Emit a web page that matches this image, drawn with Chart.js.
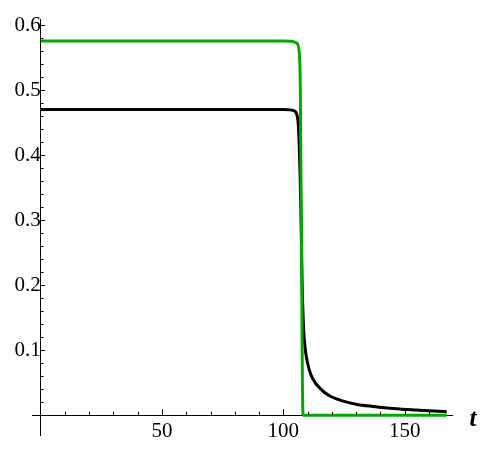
<!DOCTYPE html>
<html>
<head>
<meta charset="utf-8">
<script src="https://cdn.jsdelivr.net/npm/chart.js@4/dist/chart.umd.min.js"></script>
<style>
  html, body { margin: 0; padding: 0; background: #fff; }
  canvas { display: block; }
</style>
</head>
<body>
<canvas id="plot" width="487" height="455"></canvas>
<script>
// green curve
const tGreen = [0, 100, 103, 104.5, 105.5, 106.3, 106.8, 107.0, 107.5, 107.85, 108.0, 108.2, 110, 167.3]
const green = [0.5755, 0.5755, 0.575, 0.5738, 0.572, 0.565, 0.54, 0.5, 0.25, 0.05, 0.01, 0, 0, 0]

// black curve
const tBlack = [0, 100, 103, 104.5, 105.5, 106.1, 106.5, 106.9, 107.3, 107.7, 108.2, 108.6, 109.3, 110, 111, 112, 113.5, 115, 117, 120, 124, 130, 137, 144, 151, 158, 167.3]
const black = [0.470, 0.470, 0.4695, 0.468, 0.463, 0.45, 0.42, 0.37, 0.30, 0.21, 0.146, 0.118, 0.094, 0.08, 0.066, 0.057, 0.048, 0.042, 0.035, 0.028, 0.0225, 0.017, 0.0135, 0.0108, 0.0088, 0.0072, 0.0054]

const xTicks = [50, 100, 150]
const yTicks = [0.1, 0.2, 0.3, 0.4, 0.5, 0.6]

const serif = '"Liberation Serif", "Times New Roman", serif'

const toPoints = (ts, vs) => ts.map((t, i) => ({ x: t, y: vs[i] }))

// Mathematica style ticks: pointing inward, minor every 10 / 0.02
const axisTicks = {
  id: 'axisTicks',
  afterDraw(chart) {
    const { ctx, scales: { x, y } } = chart
    const x0 = x.getPixelForValue(0)
    const y0 = y.getPixelForValue(0)
    ctx.save()
    ctx.strokeStyle = '#000'
    ctx.lineWidth = 1
    ctx.beginPath()
    for (let t = 10; t <= 160; t += 10) {
      const px = Math.round(x.getPixelForValue(t)) + 0.5
      const len = t % 50 === 0 ? 6 : 3.5
      ctx.moveTo(px, y0)
      ctx.lineTo(px, y0 - len)
    }
    for (let k = 1; k <= 30; k++) {
      const py = Math.round(y.getPixelForValue(k * 0.02)) + 0.5
      const len = k % 5 === 0 ? 4.5 : 3
      ctx.moveTo(x0, py)
      ctx.lineTo(x0 + len, py)
    }
    ctx.stroke()

    // axis label
    ctx.fillStyle = '#000'
    ctx.font = 'italic bold 25px ' + serif
    ctx.textAlign = 'center'
    ctx.textBaseline = 'middle'
    ctx.fillText('t', x.right + 21, y0 + 4)
    ctx.restore()
  }
}

new Chart(document.getElementById('plot'), {
  type: 'line',
  data: {
    datasets: [
      {
        data: toPoints(tGreen, green),
        borderColor: 'rgb(0, 170, 0)',
        borderWidth: 3,
        pointRadius: 0,
        cubicInterpolationMode: 'monotone'
      },
      {
        data: toPoints(tBlack, black),
        borderColor: '#000',
        borderWidth: 3,
        pointRadius: 0,
        cubicInterpolationMode: 'monotone'
      }
    ]
  },
  options: {
    responsive: false,
    animation: false,
    layout: { padding: { left: 32, right: 35, top: 18, bottom: 15 } },
    plugins: { legend: { display: false }, tooltip: { enabled: false } },
    scales: {
      x: {
        type: 'linear',
        min: -3.58,
        max: 169.5,
        position: { y: 0 },
        afterBuildTicks: scale => { scale.ticks = xTicks.map(v => ({ value: v })) },
        grid: { display: false, drawTicks: false },
        border: { display: true, color: '#000', width: 1 },
        ticks: {
          padding: 4,
          maxRotation: 0,
          color: '#000',
          font: { family: serif, size: 21 }
        }
      },
      y: {
        type: 'linear',
        min: -0.031,
        max: 0.6083,
        position: { x: 0 },
        afterBuildTicks: scale => { scale.ticks = yTicks.map(v => ({ value: v })) },
        grid: { display: false, drawTicks: false },
        border: { display: true, color: '#000', width: 1 },
        ticks: {
          padding: 7,
          color: '#000',
          font: { family: serif, size: 21 },
          callback: v => v.toFixed(1)
        }
      }
    }
  },
  plugins: [axisTicks]
})
</script>
</body>
</html>
